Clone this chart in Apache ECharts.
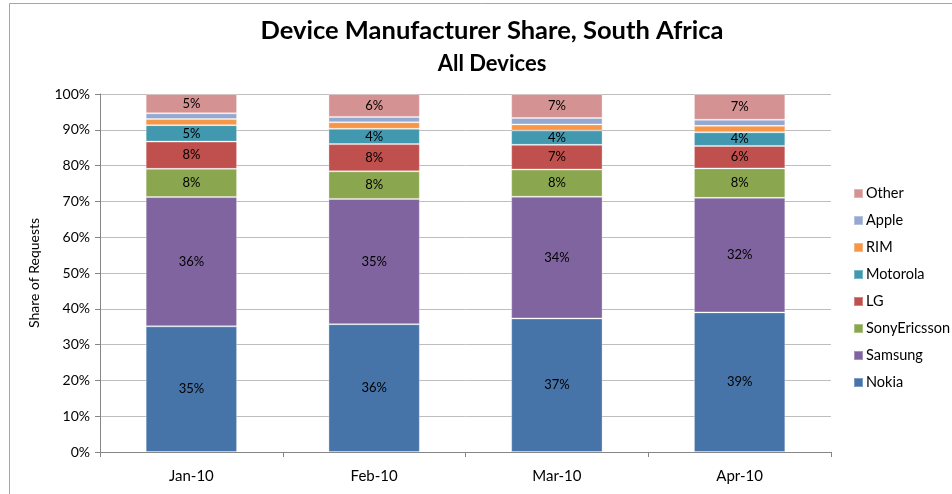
<!DOCTYPE html>
<html><head><meta charset="utf-8">
<script src="https://cdn.jsdelivr.net/npm/echarts@6/dist/echarts.min.js"></script>
<style>html,body{margin:0;padding:0;background:#fff}#c{width:952px;height:494px}</style>
</head><body><div id="c"></div>
<script>
const categories = ['Jan-10', 'Feb-10', 'Mar-10', 'Apr-10'];
const nokia        = [35.1, 35.7, 37.3, 39.0];
const samsung      = [36.1, 35.0, 34.0, 32.0];
const sonyEricsson = [7.9, 7.7, 7.6, 8.2];
const lg           = [7.6, 7.6, 6.9, 6.3];
const motorola     = [4.6, 4.3, 4.0, 3.8];
const rim          = [1.7, 1.8, 1.7, 1.8];
const apple        = [1.6, 1.5, 1.8, 1.7];
const other        = [5.4, 6.4, 6.7, 7.2];
const yTicks = [0, 10, 20, 30, 40, 50, 60, 70, 80, 90, 100];

const FONT = 'Lato';
const seriesDefs = [
  ['Nokia', nokia, '#4674A8', true],
  ['Samsung', samsung, '#8064A0', true],
  ['SonyEricsson', sonyEricsson, '#8AA64F', true],
  ['LG', lg, '#C0504D', true],
  ['Motorola', motorola, '#4198AF', true],
  ['RIM', rim, '#F79646', false],
  ['Apple', apple, '#95A9D0', false],
  ['Other', other, '#D49392', true]
];
const chart = echarts.init(document.getElementById('c'));
chart.setOption({
  animation: false,
  textStyle: { fontFamily: FONT },
  title: [
    { text: 'Device Manufacturer Share, South Africa', left: 487, top: 13, textAlign: 'center',
      textStyle: { fontFamily: FONT, fontWeight: 'bold', fontSize: 25.5, color: '#000' } },
    { text: 'All Devices', left: 487, top: 48, textAlign: 'center',
      textStyle: { fontFamily: FONT, fontWeight: 'bold', fontSize: 22, color: '#000' } }
  ],
  graphic: [{ type: 'rect', shape: { x: 9.5, y: 3.5, width: 1000, height: 600 }, style: { fill: 'none', stroke: '#A6A6A6', lineWidth: 1 }, silent: true }],
  legend: {
    orient: 'vertical', left: 848, top: 181, itemWidth: 9, itemHeight: 9, itemGap: 12,
    icon: 'rect',
    data: ['Other', 'Apple', 'RIM', 'Motorola', 'LG', 'SonyEricsson', 'Samsung', 'Nokia'],
    textStyle: { fontFamily: FONT, fontSize: 14.5, color: '#000', padding: [0, 0, 0, -2] }
  },
  grid: { left: 100, right: 121, top: 94, bottom: 42 },
  xAxis: {
    type: 'category', data: categories,
    axisLine: { lineStyle: { color: '#868686' } },
    axisTick: { show: true, length: 5, alignWithLabel: false, lineStyle: { color: '#868686' } },
    axisLabel: { fontFamily: FONT, fontSize: 15, color: '#000', margin: 17 }
  },
  yAxis: {
    type: 'value', min: yTicks[0], max: yTicks[yTicks.length - 1], interval: 10,
    name: 'Share of Requests', nameLocation: 'middle', nameGap: 59, nameRotate: 90,
    nameTextStyle: { fontFamily: FONT, fontSize: 14, color: '#000' },
    axisLine: { show: true, lineStyle: { color: '#868686' } },
    axisTick: { show: true, length: 5, lineStyle: { color: '#868686' } },
    axisLabel: { fontFamily: FONT, fontSize: 14, color: '#000', margin: 10, formatter: '{value}%' },
    splitLine: { lineStyle: { color: '#BEBEBE', width: 1 } }
  },
  series: seriesDefs.map(([name, data, color, showLabel]) => ({
    name, type: 'bar', stack: 'total', data, barWidth: '50%',
    itemStyle: { color, borderColor: 'rgba(255,255,255,0.3)', borderWidth: 1 },
    label: { show: showLabel, position: 'inside', color: '#000', fontFamily: FONT, fontSize: 13,
      formatter: p => Math.round(p.value) + '%' }
  }))
});
</script></body></html>
